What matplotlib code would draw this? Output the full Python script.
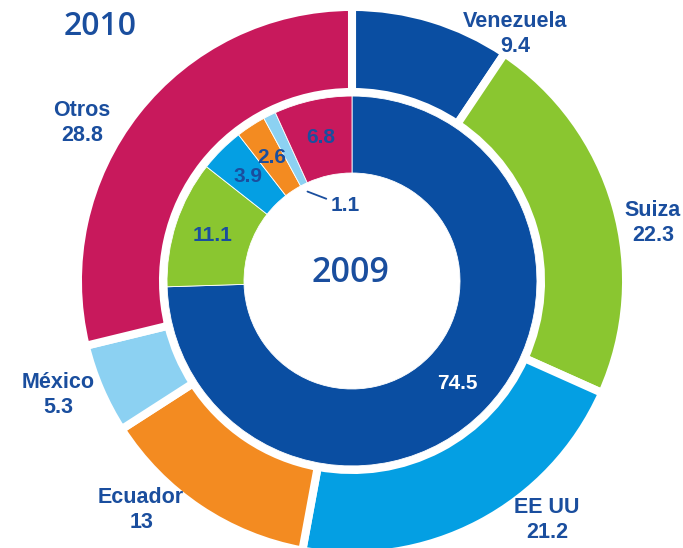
import matplotlib.pyplot as plt
import numpy as np

countries = ['Venezuela', 'Suiza', 'EE UU', 'Ecuador', 'México', 'Otros']
values_2010 = [9.4, 22.3, 21.2, 13, 5.3, 28.8]
values_2009 = [74.5, 11.1, 3.9, 2.6, 1.1, 6.8]
labels_2010 = ['9.4', '22.3', '21.2', '13', '5.3', '28.8']
labels_2009 = ['74.5', '11.1', '3.9', '2.6', '1.1', '6.8']

colors = ['#0A4EA2', '#8AC630', '#049FE3', '#F38B21', '#8CD1F2', '#C8195C']
text_color = '#1A4E9E'

# where the outer (2010) labels sit, in pie radius units
outer_label_pos = [(0.604, 0.915), (1.115, 0.215), (0.722, -0.885),
                   (-0.781, -0.848), (-1.089, -0.422), (-1.0, 0.585)]

fig = plt.figure(figsize=(6.83, 5.48), dpi=100)
ax = fig.add_axes([0, 0, 1, 1])

outer, _ = ax.pie(values_2010, radius=1.015, colors=colors, startangle=90,
                  counterclock=False,
                  wedgeprops=dict(width=0.315, edgecolor='white', linewidth=5.8))
inner, _ = ax.pie(values_2009, radius=0.685, colors=colors, startangle=90,
                  counterclock=False,
                  wedgeprops=dict(width=0.285, edgecolor='white', linewidth=0.6))

# outer labels
for name, lab, (x, y) in zip(countries, labels_2010, outer_label_pos):
    ax.text(x, y, name + '\n' + lab, ha='center', va='center', color=text_color,
            fontsize=15.5, fontweight='bold', family='Liberation Sans',
            linespacing=1.2)

# inner labels
for i, (w, lab) in enumerate(zip(inner, labels_2009)):
    mid = np.deg2rad((w.theta1 + w.theta2) / 2)
    if values_2009[i] < 2:
        # tiny slice: label inside the hole with a leader line
        ax.annotate(lab, xy=(0.37 * np.cos(mid), 0.37 * np.sin(mid)),
                    xytext=(-0.026, 0.278), ha='center', va='center',
                    color=text_color, fontsize=15, fontweight='bold',
                    family='Liberation Sans',
                    arrowprops=dict(arrowstyle='-', color=text_color, lw=1.3,
                                    shrinkA=1, shrinkB=0))
        continue
    c = 'white' if i == 0 else text_color
    ax.text(0.545 * np.cos(mid), 0.545 * np.sin(mid), lab, ha='center', va='center',
            color=c, fontsize=15, fontweight='bold', family='Liberation Sans')

ax.text(-0.007, 0.030, '2009', ha='center', va='center', color=text_color,
        fontsize=24.5, fontweight='semibold', family='Open Sans')
ax.text(-0.933, 0.944, '2010', ha='center', va='center', color=text_color,
        fontsize=23, fontweight='semibold', family='Open Sans')

ax.set_xlim(-1.3037, 1.2259)
ax.set_ylim(-0.9889, 1.0407)
ax.axis('off')

fig.savefig('out.png', dpi=100)
